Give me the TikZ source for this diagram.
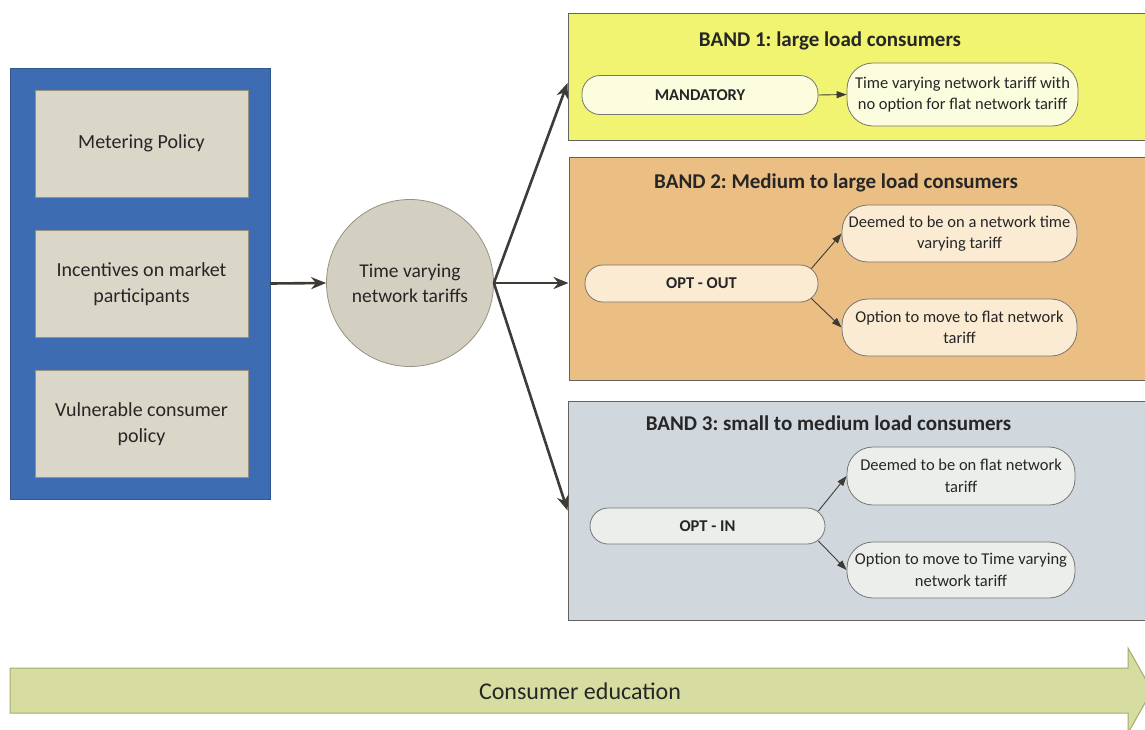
\documentclass[tikz,border=0pt]{standalone}
\usepackage{fontspec}
\setmainfont{Carlito}
\frenchspacing
\usetikzlibrary{arrows.meta,calc}

\definecolor{panelblue}{RGB}{62,108,178}
\definecolor{stone}{RGB}{218,214,200}
\definecolor{stoneline}{RGB}{150,145,130}
\definecolor{ink}{RGB}{38,38,38}
\definecolor{arrowgray}{RGB}{62,58,54}
\definecolor{yellowband}{RGB}{241,244,112}
\definecolor{yellowpill}{RGB}{252,252,222}
\definecolor{orangeband}{RGB}{235,190,132}
\definecolor{orangepill}{RGB}{250,235,210}
\definecolor{greyband}{RGB}{208,216,222}
\definecolor{greypill}{RGB}{236,238,236}
\definecolor{eduarrow}{RGB}{215,220,160}
\definecolor{eduline}{RGB}{165,170,110}

\tikzset{
  policybox/.style={draw=stoneline, fill=stone, line width=1pt, minimum width=213pt,
    minimum height=107pt, inner sep=0pt, align=center, text=ink,
    font=\fontsize{20}{26}\selectfont},
  bandbox/.style={draw=arrowgray!80, line width=1pt, inner sep=0pt},
  bandtitle/.style={font=\bfseries\fontsize{21}{25}\selectfont, text=ink},
  pill/.style={draw=arrowgray!70, line width=0.8pt, rounded corners=18pt, inner sep=0pt,
    align=center, text=ink, font=\bfseries\fontsize{16.5}{19}\selectfont},
  outcome/.style={draw=arrowgray!70, line width=0.8pt, rounded corners=26pt, inner sep=0pt,
    align=center, text=ink, font=\fontsize{16.5}{21.5}\selectfont},
  bigflow/.style={draw=arrowgray, line width=2.6pt, -{Stealth[length=15pt,width=12pt]}},
  smallflow/.style={draw=arrowgray, line width=0.9pt, -{Triangle[length=10pt,width=7pt]}}
}

\begin{document}
\begin{tikzpicture}[x=1pt,y=-1pt]
\useasboundingbox (0,0) rectangle (1145,729);
\clip (0,0) rectangle (1145,729);

% policy panel on the left
\node[draw=panelblue!80!black, fill=panelblue, line width=0.8pt, minimum width=260pt,
      minimum height=431pt, inner sep=0pt] (panel) at (140,283.5) {};
\node[policybox] (meter) at (141.5,143.5) {Metering Policy};
\node[policybox] (incent) at (141.5,284) {Incentives on market\\participants};
\node[policybox] (vuln) at (141.5,424) {Vulnerable consumer\\policy};

% central hub
\node[circle, draw=stoneline, fill=stone!97!black, line width=0.8pt, minimum size=167pt,
      inner sep=0pt, align=center, text=ink, font=\fontsize{19.5}{25}\selectfont]
      (hub) at (410,283) {Time varying\\network tariffs};

% band 1
\node[bandbox, fill=yellowband, minimum width=578pt, minimum height=127pt] (band1) at (857,76.5) {};
\node[bandtitle] (t1) at (830,41) {BAND 1: large load consumers};
\node[pill, fill=yellowpill, minimum width=236pt, minimum height=39pt] (mand) at (700,95) {MANDATORY};
\node[outcome, fill=yellowpill, minimum width=231pt, minimum height=63pt] (b1out) at (962.5,94.5)
  {Time varying network tariff with\\no option for flat network tariff};

% band 2
\node[bandbox, fill=orangeband, minimum width=577pt, minimum height=223pt] (band2) at (857.5,268.5) {};
\node[bandtitle] (t2) at (836,183) {BAND 2: Medium to large load consumers};
\node[pill, fill=orangepill, minimum width=233pt, minimum height=37pt] (optout) at (701.5,283.5) {OPT - OUT};
\node[outcome, fill=orangepill, minimum width=235pt, minimum height=57pt] (b2up) at (959.5,233.5)
  {Deemed to be on a network time\\varying tariff};
\node[outcome, fill=orangepill, minimum width=235pt, minimum height=57pt] (b2down) at (959.5,327.5)
  {Option to move to flat network\\tariff};

% band 3
\node[bandbox, fill=greyband, minimum width=578pt, minimum height=219pt] (band3) at (857,510.5) {};
\node[bandtitle] (t3) at (828.5,423) {BAND 3: small to medium load consumers};
\node[pill, fill=greypill, minimum width=235pt, minimum height=36pt] (optin) at (707.5,526) {OPT - IN};
\node[outcome, fill=greypill, minimum width=228pt, minimum height=58pt] (b3up) at (961,476)
  {Deemed to be on flat network\\tariff};
\node[outcome, fill=greypill, minimum width=228pt, minimum height=56pt] (b3down) at (961,570)
  {Option to move to Time varying\\network tariff};

% connectors
\draw[bigflow] (panel.east) -- (hub.west);
\draw[bigflow] (hub.east) -- ($(band1.west)+(0,6.5)$);
\draw[bigflow] (hub.east) -- ($(band2.west)+(0,14.5)$);
\draw[bigflow] (hub.east) -- (band3.west);

\draw[smallflow] (mand.east) -- (b1out.west);
\draw[smallflow] ($(optout.east)+(-7,-15)$) -- (b2up.west);
\draw[smallflow] ($(optout.east)+(-7,15)$) -- (b2down.west);
\draw[smallflow] ($(optin.east)+(-7,-15)$) -- (b3up.west);
\draw[smallflow] ($(optin.east)+(-7,15)$) -- (b3down.west);

% consumer education arrow along the bottom
\draw[draw=eduline, fill=eduarrow, line width=1pt]
  (10,668) -- (1128,668) -- (1128,648) -- (1152,690.5) -- (1128,733) -- (1128,713) -- (10,713) -- cycle;
\node[text=ink, font=\fontsize{24}{28}\selectfont] (edu) at (580,691) {Consumer education};
\end{tikzpicture}
\end{document}
